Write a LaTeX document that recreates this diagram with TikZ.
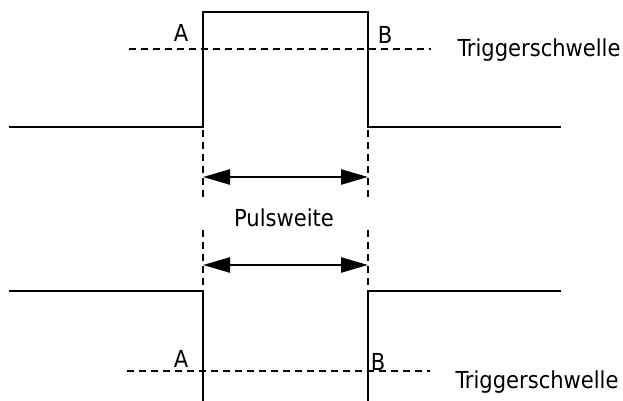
\documentclass[tikz,border=0pt]{standalone}
\usepackage{fontspec}
\setmainfont{DejaVu Sans Condensed}
\usetikzlibrary{arrows.meta}
\begin{document}
\begin{tikzpicture}[x=1pt,y=-1pt,
  sig/.style={line width=2.4pt, line cap=rect},
  thr/.style={line width=1.7pt, dash pattern=on 7pt off 5pt},
  guide/.style={line width=1.7pt, dash pattern=on 7pt off 5pt},
  dim/.style={line width=2.4pt, arrows={Triangle[length=27pt,width=15pt]-Triangle[length=27pt,width=15pt]}},
  lbl/.style={font=\fontsize{23.4}{28}\selectfont, inner sep=0pt}]
\useasboundingbox (0,0) rectangle (623,401);
% top pulse
\coordinate (t1) at (10,127);
\coordinate (t2) at (203,127);
\coordinate (t3) at (203,12);
\coordinate (t4) at (368,12);
\coordinate (t5) at (368,127);
\coordinate (t6) at (560,127);
\draw[sig] (t1) -- (t2) -- (t3) -- (t4) -- (t5) -- (t6);
\coordinate (th1) at (129,49);
\coordinate (th2) at (431,49);
\draw[thr] (th1) -- (th2);
\node[lbl] (A1) at (181,33) {A};
\node[lbl] (B1) at (385,35) {B};
\node[lbl] (T1) at (539,50) {Triggerschwelle};
% guides
\coordinate (gl1) at (203,130);
\coordinate (gl2) at (203,198);
\coordinate (gl3) at (203,230);
\coordinate (gl4) at (203,294);
\coordinate (gr1) at (368,130);
\coordinate (gr2) at (368,198);
\coordinate (gr3) at (368,230);
\coordinate (gr4) at (368,294);
\draw[guide] (gl1) -- (gl2);
\draw[guide] (gl3) -- (gl4);
\draw[guide] (gr1) -- (gr2);
\draw[guide] (gr3) -- (gr4);
\coordinate (a1) at (203,177);
\coordinate (a2) at (368,177);
\coordinate (b1) at (203,265);
\coordinate (b2) at (368,265);
\draw[dim] (a1) -- (a2);
\draw[dim] (b1) -- (b2);
\node[lbl] (P) at (284,218) {Pulsweite};
% bottom pulse
\coordinate (u1) at (10,291);
\coordinate (u2) at (203,291);
\coordinate (u3) at (203,401);
\coordinate (u4) at (368,401);
\coordinate (u5) at (368,291);
\coordinate (u6) at (560,291);
\draw[sig] (u1) -- (u2) -- (u3);
\draw[sig] (u4) -- (u5) -- (u6);
\coordinate (bh1) at (127,371);
\coordinate (bh2) at (430,371);
\draw[thr] (bh1) -- (bh2);
\node[lbl] (A2) at (181,359) {A};
\node[lbl] (B2) at (378,362) {B};
\node[lbl] (T2) at (537,382) {Triggerschwelle};
\end{tikzpicture}
\end{document}
